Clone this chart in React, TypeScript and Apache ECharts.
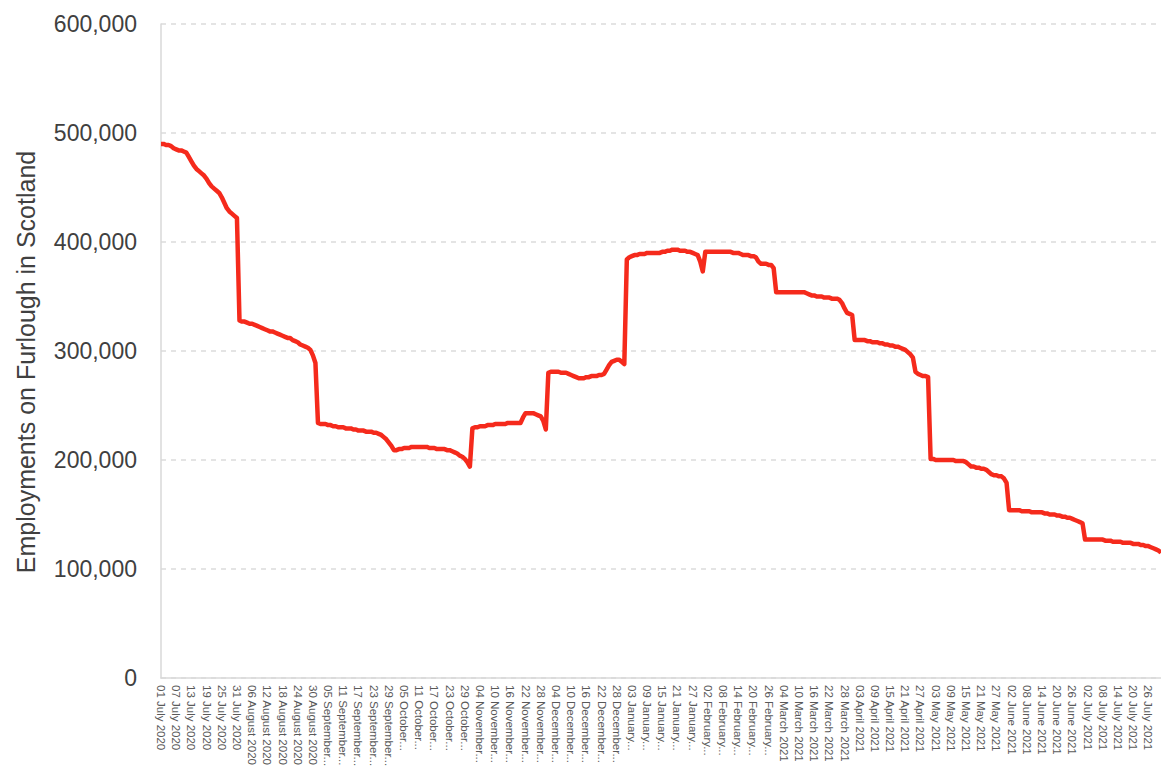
import React, { useEffect, useRef } from "react";
import * as echarts from "echarts";

// Daily count of employments on furlough in Scotland, one array per month.
const jul2020 = [
  490000, 490000, 489000, 489000, 488000, 486000, 485000, 484000, 484000, 483000,
  482000, 478000, 474000, 470000, 467000, 465000, 463000, 461000, 458000, 454000,
  451000, 449000, 447000, 445000, 441000, 436000, 431000, 428000, 426000, 424000,
  422000,
];
const aug2020 = [
  328000, 327000, 327000, 326000, 325000, 325000, 324000, 323000, 322000, 321000,
  320000, 319000, 318000, 318000, 317000, 316000, 315000, 314000, 313000, 312000,
  312000, 310000, 309000, 308000, 306000, 305000, 304000, 303000, 301000, 296000,
  289000,
];
const sep2020 = [
  234000, 233000, 233000, 233000, 232000, 232000, 231000, 231000, 230000, 230000,
  230000, 229000, 229000, 229000, 228000, 228000, 227000, 227000, 227000, 226000,
  226000, 226000, 225000, 225000, 224000, 223000, 221000, 219000, 216000, 213000,
];
const oct2020 = [
  209000, 209000, 210000, 210000, 211000, 211000, 211000, 212000, 212000, 212000,
  212000, 212000, 212000, 212000, 211000, 211000, 211000, 210000, 210000, 210000,
  210000, 209000, 209000, 208000, 207000, 206000, 204000, 203000, 201000, 198000,
  194000,
];
const nov2020 = [
  229000, 230000, 230000, 231000, 231000, 231000, 232000, 232000, 232000, 233000,
  233000, 233000, 233000, 233000, 234000, 234000, 234000, 234000, 234000, 234000,
  239000, 243000, 243000, 243000, 243000, 242000, 241000, 240000, 236000, 228000,
];
const dec2020 = [
  280000, 281000, 281000, 281000, 281000, 280000, 280000, 280000, 279000, 278000,
  277000, 276000, 275000, 275000, 275000, 276000, 276000, 277000, 277000, 277000,
  278000, 278000, 279000, 283000, 287000, 290000, 291000, 292000, 292000, 290000,
  288000,
];
const jan2021 = [
  384000, 386000, 387000, 388000, 388000, 389000, 389000, 389000, 390000, 390000,
  390000, 390000, 390000, 390000, 391000, 391000, 392000, 392000, 393000, 393000,
  393000, 392000, 392000, 392000, 391000, 391000, 390000, 389000, 388000, 382000,
  373000,
];
const feb2021 = [
  391000, 391000, 391000, 391000, 391000, 391000, 391000, 391000, 391000, 391000,
  391000, 390000, 390000, 390000, 389000, 388000, 388000, 388000, 387000, 387000,
  386000, 382000, 380000, 380000, 380000, 379000, 379000, 376000,
];
const mar2021 = [
  354000, 354000, 354000, 354000, 354000, 354000, 354000, 354000, 354000, 354000,
  354000, 354000, 353000, 352000, 351000, 351000, 350000, 350000, 350000, 349000,
  349000, 349000, 348000, 348000, 348000, 347000, 344000, 339000, 335000, 334000,
  333000,
];
const apr2021 = [
  310000, 310000, 310000, 310000, 310000, 309000, 309000, 308000, 308000, 308000,
  307000, 307000, 306000, 306000, 305000, 305000, 304000, 304000, 303000, 302000,
  301000, 299000, 297000, 294000, 281000, 279000, 278000, 277000, 277000, 276000,
];
const may2021 = [
  201000, 201000, 200000, 200000, 200000, 200000, 200000, 200000, 200000, 200000,
  199000, 199000, 199000, 199000, 198000, 196000, 194000, 194000, 193000, 193000,
  192000, 192000, 191000, 189000, 187000, 186000, 186000, 185000, 185000, 183000,
  179000,
];
const jun2021 = [
  154000, 154000, 154000, 154000, 154000, 153000, 153000, 153000, 153000, 152000,
  152000, 152000, 152000, 152000, 151000, 151000, 150000, 150000, 150000, 149000,
  149000, 148000, 148000, 147000, 147000, 146000, 145000, 144000, 143000, 142000,
];
const jul2021 = [
  127000, 127000, 127000, 127000, 127000, 127000, 127000, 127000, 126000, 126000,
  126000, 125000, 125000, 125000, 125000, 124000, 124000, 124000, 124000, 123000,
  123000, 123000, 122000, 122000, 121000, 121000, 120000, 119000, 118000, 117000,
  115000,
];

// Month blocks in order: name, year and the daily values.
const months: [string, number, number[]][] = [
  ["July", 2020, jul2020],
  ["August", 2020, aug2020],
  ["September", 2020, sep2020],
  ["October", 2020, oct2020],
  ["November", 2020, nov2020],
  ["December", 2020, dec2020],
  ["January", 2021, jan2021],
  ["February", 2021, feb2021],
  ["March", 2021, mar2021],
  ["April", 2021, apr2021],
  ["May", 2021, may2021],
  ["June", 2021, jun2021],
  ["July", 2021, jul2021],
];

const yTicks = [0, 100000, 200000, 300000, 400000, 500000, 600000];
const yAxisTitle = "Employments on Furlough in Scotland";

const categories: string[] = [];
const values: number[] = [];
months.forEach(([name, year, days]) => {
  days.forEach((v, i) => {
    categories.push(`${String(i + 1).padStart(2, "0")} ${name} ${year}`);
    values.push(v);
  });
});

// Long date labels lose their year and get an ellipsis.
const shortLabel = (s: string) => {
  if (s.length <= 14) return s;
  const parts = s.split(" ");
  return `${parts[0]} ${parts[1]}...`;
};

const FONT = "'Liberation Sans', Arial, sans-serif";

export default function App() {
  const ref = useRef<HTMLDivElement>(null);

  useEffect(() => {
    if (!ref.current) return;
    const chart = echarts.init(ref.current, null, { renderer: "svg" });
    chart.setOption({
      animation: false,
      backgroundColor: "#ffffff",
      grid: {
        left: 161,
        right: 0,
        top: 24,
        bottom: 97,
        containLabel: false,
        outerBoundsMode: "none",
      },
      xAxis: {
        type: "category",
        data: categories,
        boundaryGap: false,
        axisLine: { show: true, lineStyle: { color: "#d9d9d9", width: 1.5 } },
        axisTick: { show: false },
        splitLine: { show: false },
        axisLabel: {
          interval: 5,
          rotate: -90,
          margin: 7,
          fontSize: 11.5,
          fontFamily: FONT,
          color: "#595959",
          hideOverlap: false,
          formatter: (v: string) => shortLabel(v),
        },
      },
      yAxis: {
        type: "value",
        min: yTicks[0],
        max: yTicks[yTicks.length - 1],
        interval: yTicks[1] - yTicks[0],
        name: yAxisTitle,
        nameLocation: "middle",
        nameRotate: 90,
        nameGap: 123,
        nameTextStyle: {
          fontSize: 25,
          fontFamily: FONT,
          color: "#404040",
          padding: [0, 22, 0, 0],
        },
        axisLine: { show: true, lineStyle: { color: "#d9d9d9", width: 1.5 } },
        axisTick: { show: false },
        axisLabel: {
          margin: 24,
          fontSize: 23,
          fontFamily: FONT,
          color: "#404040",
          formatter: (v: number) => v.toLocaleString("en-US"),
        },
        splitLine: {
          show: true,
          lineStyle: { color: "#dcdcdc", type: [5, 5], width: 1.5 },
        },
      },
      series: [
        {
          type: "line",
          data: values,
          showSymbol: false,
          symbol: "none",
          lineStyle: { color: "#f52a1c", width: 4.5, join: "round" },
          itemStyle: { color: "#f52a1c" },
        },
      ],
    });
    return () => chart.dispose();
  }, []);

  return (
    <div
      ref={ref}
      style={{ position: "fixed", left: 0, top: 0, width: 1161, height: 775, background: "#fff" }}
    />
  );
}
